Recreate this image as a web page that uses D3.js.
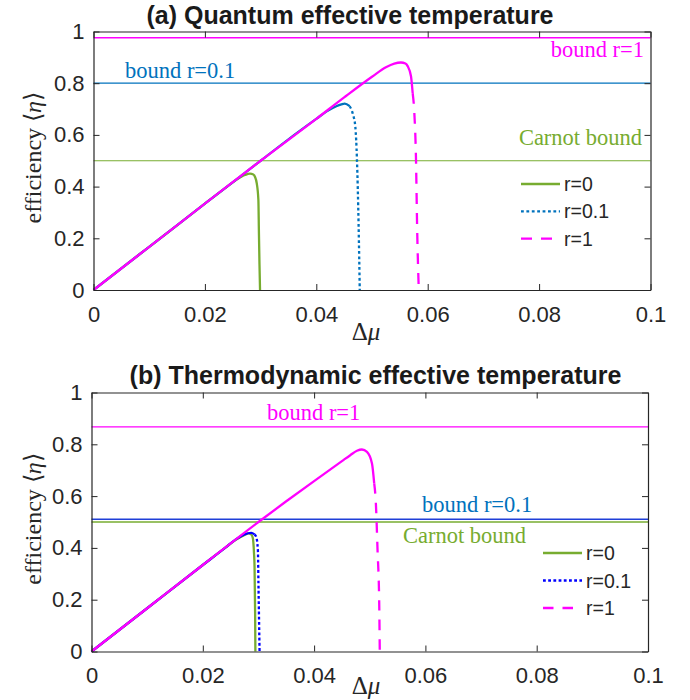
<!DOCTYPE html>
<html>
<head>
<meta charset="utf-8">
<script src="https://cdn.jsdelivr.net/npm/d3@7"></script>
<style>
  body { margin: 0; background: #fff; }
  svg { display: block; }
</style>
</head>
<body>
<svg id="chart" width="690" height="700"></svg>
<script>
// ---- data ----
const xTicks = [0, 0.02, 0.04, 0.06, 0.08, 0.1]
const yTicks = [0, 0.2, 0.4, 0.6, 0.8, 1]
const seriesNames = ['r=0', 'r=0.1', 'r=1']

// panel (a) quantum effective temperature
const aTitle = '(a) Quantum effective temperature'
const aBoundCarnot = 0.5
const aBoundR01 = 0.8
const aBoundR1 = 0.976
const aMuR0 = [0, 0.005, 0.01, 0.015, 0.02, 0.024, 0.0257, 0.0272, 0.0281, 0.0287, 0.029, 0.0293, 0.0296, 0.0297, 0.0298, 0.0299]
const aEtaR0 = [0, 0.084, 0.167, 0.25, 0.334, 0.4, 0.427, 0.445, 0.45, 0.447, 0.437, 0.414, 0.349, 0.22, 0.1, 0]
const aMuR01 = [0, 0.01, 0.02, 0.03, 0.035, 0.04, 0.0418, 0.0436, 0.0445, 0.0451, 0.046, 0.0466, 0.047, 0.0473, 0.0476, 0.0478]
const aEtaR01 = [0, 0.167, 0.334, 0.5, 0.583, 0.662, 0.69, 0.711, 0.718, 0.721, 0.711, 0.678, 0.633, 0.504, 0.245, 0]
const aMuR1 = [0, 0.01, 0.02, 0.03, 0.04, 0.045, 0.05, 0.0525, 0.054, 0.0552, 0.056, 0.0564, 0.057, 0.0573, 0.0576, 0.0579, 0.0581, 0.0584]
const aEtaR1 = [0, 0.167, 0.334, 0.5, 0.662, 0.745, 0.825, 0.862, 0.876, 0.88, 0.876, 0.866, 0.827, 0.762, 0.685, 0.504, 0.245, 0]

// panel (b) thermodynamic effective temperature
const bTitle = '(b) Thermodynamic effective temperature'
const bBoundCarnot = 0.5
const bBoundR01 = 0.511
const bBoundR1 = 0.867
const bMuR0 = [0, 0.01, 0.02, 0.024, 0.026, 0.0275, 0.0282, 0.0287, 0.029, 0.0292, 0.0293, 0.0294, 0.02945]
const bEtaR0 = [0, 0.167, 0.334, 0.4, 0.432, 0.45, 0.456, 0.452, 0.437, 0.38, 0.326, 0.15, 0]
const bMuR01 = [0, 0.01, 0.02, 0.024, 0.026, 0.0275, 0.0287, 0.0293, 0.0296, 0.0299, 0.03, 0.0302]
const bEtaR01 = [0, 0.167, 0.334, 0.4, 0.434, 0.452, 0.458, 0.452, 0.443, 0.391, 0.262, 0]
const bMuR1 = [0, 0.01, 0.02, 0.03, 0.035, 0.04, 0.045, 0.0465, 0.0477, 0.0486, 0.0495, 0.0504, 0.0508, 0.0511, 0.0514, 0.0517, 0.0518]
const bEtaR1 = [0, 0.167, 0.334, 0.5, 0.58, 0.658, 0.735, 0.758, 0.775, 0.78, 0.771, 0.726, 0.649, 0.572, 0.392, 0.187, 0]

// ---- styles ----
const SANS = '"Liberation Sans", Arial, Helvetica, sans-serif'
const SERIF = '"Liberation Serif", "Times New Roman", serif'
const AXIS = '#262626'
const GREEN = '#77AC30'
const MATBLUE = '#0072BD'
const MAGENTA = '#FF00FF'

const svg = d3.select('#chart')

const appendLine = (sel, x1, y1, x2, y2, stroke, width = 1, dash = null) => {
  const line = sel.append('line')
    .attr('x1', x1).attr('y1', y1).attr('x2', x2).attr('y2', y2)
    .attr('stroke', stroke).attr('stroke-width', width)
  if (dash) line.attr('stroke-dasharray', dash)
  return line
}

const appendText = (sel, x, y, str, { size = 22, family = SERIF, fill = AXIS, anchor = 'start', weight = 'normal' } = {}) =>
  sel.append('text')
    .attr('x', x).attr('y', y)
    .attr('font-family', family).attr('font-size', size)
    .attr('font-weight', weight)
    .attr('fill', fill).attr('text-anchor', anchor)
    .text(str)

// draw a curve solid up to the falling branch, then with the series dash pattern
const drawCurve = (g, x, y, mu, eta, stroke, dash, dashBelow) => {
  const pts = mu.map((m, i) => [m, eta[i]])
  const peak = d3.maxIndex(eta)
  let k = pts.length - 1
  if (dash) {
    for (let i = peak + 1; i < pts.length; i++) {
      if (eta[i] < dashBelow) { k = i - 1; break }
    }
  }
  const line = d3.line().x(d => x(d[0])).y(d => y(d[1])).curve(d3.curveMonotoneX)
  g.append('path').attr('d', line(pts.slice(0, k + 1)))
    .attr('fill', 'none').attr('stroke', stroke).attr('stroke-width', 2.3)
    .attr('stroke-linejoin', 'round')
  if (k < pts.length - 1) {
    g.append('path').attr('d', line(pts.slice(k)))
      .attr('fill', 'none').attr('stroke', stroke).attr('stroke-width', 2.3)
      .attr('stroke-dasharray', dash)
  }
}

const drawPanel = (p) => {
  const g = svg.append('g')
  const x = d3.scaleLinear().domain([0, 0.1]).range([p.left, p.right])
  const y = d3.scaleLinear().domain([0, 1]).range([p.bottom, p.top])

  // title
  appendText(g, p.titleX, p.titleY, p.title, { size: 25, family: SANS, fill: '#1a1a1a', anchor: 'middle', weight: 'bold' })

  // bound lines
  p.bounds.forEach(b => appendLine(g, x(0), y(b.value), x(0.1), y(b.value), b.color, b.width || 1.2))
  p.boundLabels.forEach(b => appendText(g, b.x, b.y, b.text, { size: 22.5, fill: b.color, anchor: b.anchor }))

  // curves
  p.curves.forEach(c => drawCurve(g, x, y, c.mu, c.eta, c.color, c.dash, c.dashBelow))

  // axes: ticks inward on all four sides
  const bottom = g.append('g').attr('transform', `translate(0,${p.bottom})`)
    .call(d3.axisBottom(x).tickValues(xTicks).tickFormat(d => String(d)).tickSizeInner(-6).tickSizeOuter(0).tickPadding(16))
  const left = g.append('g').attr('transform', `translate(${p.left},0)`)
    .call(d3.axisLeft(y).tickValues(yTicks).tickFormat(d => String(d)).tickSizeInner(-6).tickSizeOuter(0).tickPadding(9))
  const top = g.append('g').attr('transform', `translate(0,${p.top})`)
    .call(d3.axisTop(x).tickValues(xTicks).tickFormat('').tickSizeInner(-6).tickSizeOuter(0))
  const right = g.append('g').attr('transform', `translate(${p.right},0)`)
    .call(d3.axisRight(y).tickValues(yTicks).tickFormat('').tickSizeInner(-6).tickSizeOuter(0))
  ;[bottom, left, top, right].forEach(a => {
    a.selectAll('path').attr('stroke', AXIS).attr('stroke-width', 1.2)
    a.selectAll('line').attr('stroke', AXIS).attr('stroke-width', 1)
    a.selectAll('text').attr('font-family', SANS).attr('font-size', 22).attr('fill', AXIS)
  })

  // axis labels
  const xl = appendText(g, p.xLabelX, p.bottom + p.xLabelGap, 'Δ', { size: 25, anchor: 'middle' })
  xl.append('tspan').attr('font-style', 'italic').text('μ')
  const cy = (p.top + p.bottom) / 2 - 3
  const yl = g.append('text')
    .attr('transform', `translate(41,${cy}) rotate(-90)`)
    .attr('font-family', SERIF).attr('font-size', 24).attr('fill', AXIS)
    .attr('text-anchor', 'middle')
    .text('efficiency ⟨')
  yl.append('tspan').attr('font-style', 'italic').text('η')
  yl.append('tspan').text('⟩')

  // legend
  p.curves.forEach((c, i) => {
    const ly = p.legendY + i * p.legendStep
    appendLine(g, p.legendX, ly, p.legendX + 39, ly, c.color, 2.3, c.dash)
    appendText(g, p.legendX + 43, ly + 7, seriesNames[i], { size: 19.5, family: SANS, fill: AXIS })
  })
}

drawPanel({
  left: 93.5, right: 650.5, top: 31.5, bottom: 290,
  title: aTitle, titleX: 350, titleY: 24,
  xLabelX: 366, xLabelGap: 50,
  bounds: [
    { value: aBoundCarnot, color: GREEN },
    { value: aBoundR01, color: MATBLUE },
    { value: aBoundR1, color: MAGENTA, width: 1.6 }
  ],
  boundLabels: [
    { text: 'bound r=1', x: 644, y: 57, color: MAGENTA, anchor: 'end' },
    { text: 'bound r=0.1', x: 125, y: 78, color: MATBLUE, anchor: 'start' },
    { text: 'Carnot bound', x: 642, y: 145, color: GREEN, anchor: 'end' }
  ],
  curves: [
    { mu: aMuR0, eta: aEtaR0, color: GREEN, dash: null },
    { mu: aMuR01, eta: aEtaR01, color: MATBLUE, dash: '2.8,2.6', dashBelow: 0.69 },
    { mu: aMuR1, eta: aEtaR1, color: MAGENTA, dash: '11,9', dashBelow: 0.7 }
  ],
  legendX: 521, legendY: 184, legendStep: 27.3
})

drawPanel({
  left: 91.5, right: 648, top: 392.5, bottom: 651.5,
  title: bTitle, titleX: 375.5, titleY: 384,
  xLabelX: 366, xLabelGap: 42,
  bounds: [
    { value: bBoundR01, color: '#1f3fd8', width: 1.5 },
    { value: bBoundCarnot, color: GREEN, width: 1.6 },
    { value: bBoundR1, color: MAGENTA }
  ],
  boundLabels: [
    { text: 'bound r=1', x: 267, y: 420, color: MAGENTA, anchor: 'start' },
    { text: 'bound r=0.1', x: 422, y: 512, color: MATBLUE, anchor: 'start' },
    { text: 'Carnot bound', x: 403, y: 543, color: GREEN, anchor: 'start' }
  ],
  curves: [
    { mu: bMuR0, eta: bEtaR0, color: GREEN, dash: null },
    { mu: bMuR01, eta: bEtaR01, color: '#0000FF', dash: '2.8,2.4', dashBelow: 0.45 },
    { mu: bMuR1, eta: bEtaR1, color: MAGENTA, dash: '10.5,9', dashBelow: 0.6 }
  ],
  legendX: 543, legendY: 553, legendStep: 27.5
})
</script>
</body>
</html>
